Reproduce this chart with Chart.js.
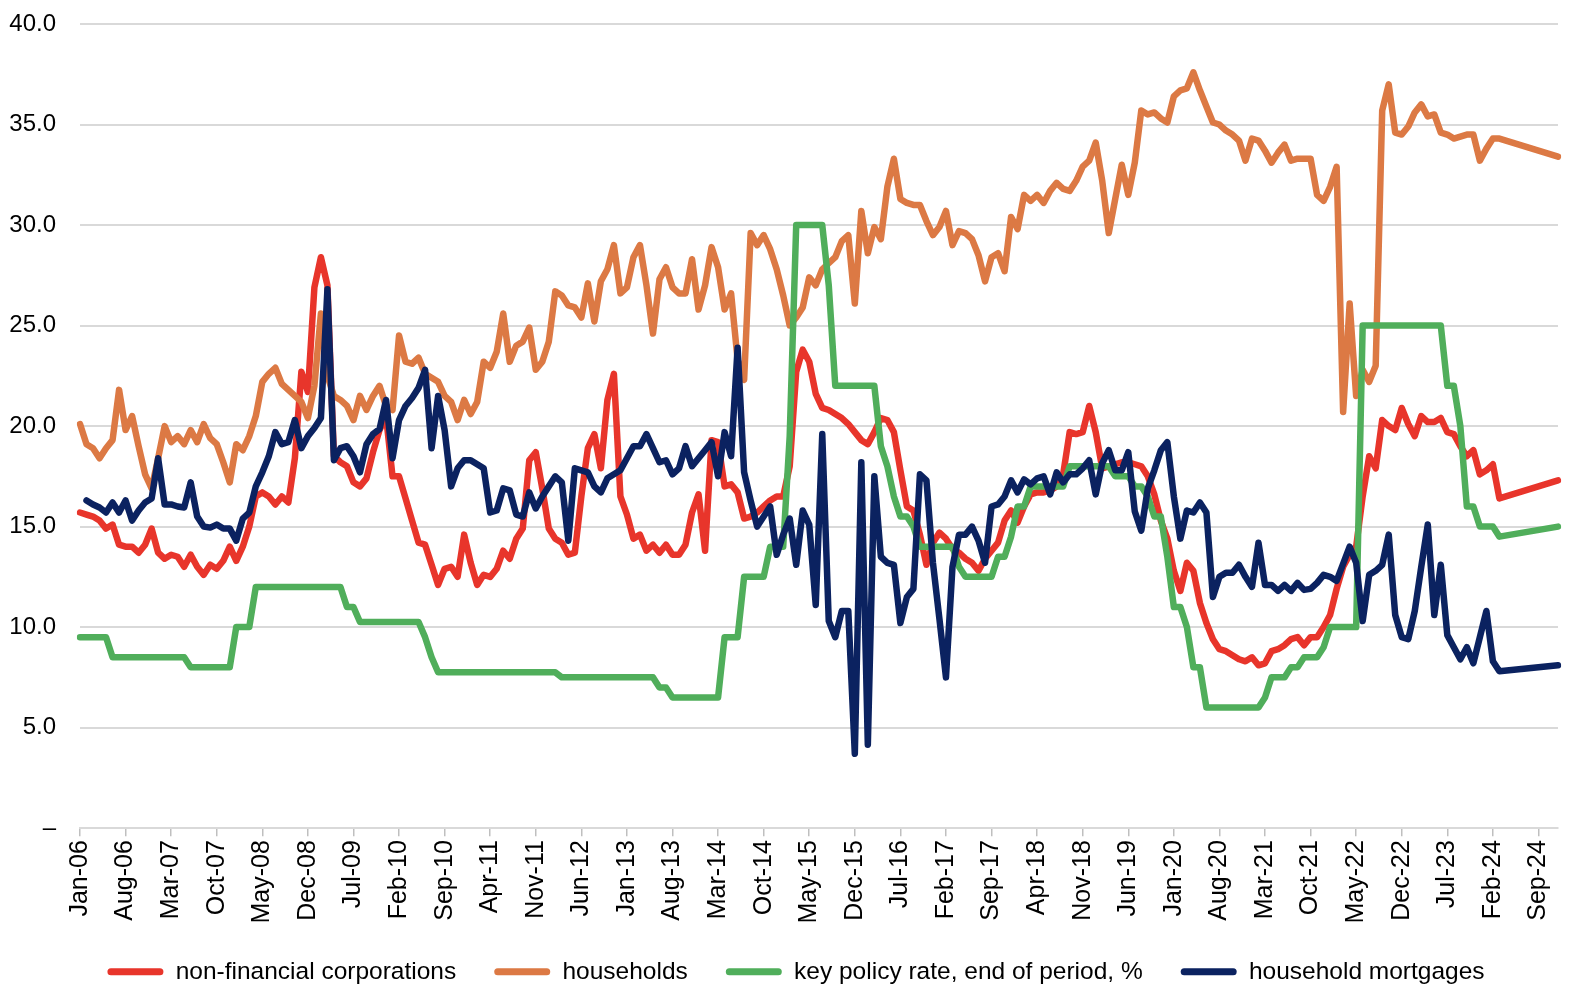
<!DOCTYPE html>
<html>
<head>
<meta charset="utf-8">
<script src="https://cdn.jsdelivr.net/npm/chart.js@4.4.1/dist/chart.umd.min.js"></script>
<style>
  html, body { margin: 0; padding: 0; background: #ffffff; }
  #wrap { width: 1576px; height: 1000px; }
</style>
</head>
<body>
<div id="wrap"><canvas id="rateChart" width="1576" height="1000"></canvas></div>
<script>
// Monthly categories Jan-06 .. Dec-24
var monthNames = ['Jan','Feb','Mar','Apr','May','Jun','Jul','Aug','Sep','Oct','Nov','Dec'];
var years = ['06','07','08','09','10','11','12','13','14','15','16','17','18','19','20','21','22','23','24'];
var tickEvery = 7;
var yTicks = [0, 5, 10, 15, 20, 25, 30, 35, 40];

var categories = [];
years.forEach(function (y) {
  monthNames.forEach(function (m) { categories.push(m + '-' + y); });
});

// non-financial corporations
var nfcRates = [
  15.7,15.6,15.5,15.3,14.9,15.1,14.1,14.0,14.0,13.7,14.1,14.9,
  13.7,13.4,13.6,13.5,13.0,13.6,13.0,12.6,13.1,12.9,13.3,14.0,
  13.3,14.0,15.0,16.5,16.7,16.5,16.1,16.5,16.2,18.4,22.7,21.7,
  26.9,28.4,27.0,18.5,18.2,18.0,17.2,17.0,17.4,18.7,19.8,20.5,
  17.5,17.5,16.4,15.3,14.2,14.1,13.1,12.1,12.9,13.0,12.5,14.6,
  13.2,12.1,12.6,12.5,12.9,13.8,13.4,14.4,14.9,18.3,18.7,16.9,
  14.9,14.4,14.2,13.6,13.7,16.5,18.9,19.6,17.9,21.3,22.6,16.5,
  15.6,14.4,14.6,13.8,14.1,13.7,14.1,13.6,13.6,14.1,15.7,16.6,
  13.8,19.3,19.2,17.0,17.1,16.7,15.4,15.5,15.7,16.0,16.3,16.5,
  16.5,18.0,22.7,23.8,23.2,21.6,20.9,20.8,20.6,20.4,20.1,19.7,
  19.3,19.1,19.7,20.4,20.3,19.7,17.8,16.0,15.8,14.6,13.1,14.2,
  14.7,14.4,13.9,13.7,13.4,13.2,12.8,13.4,13.8,14.2,15.3,15.8,
  15.2,16.0,16.6,16.7,16.7,16.8,17.0,17.6,19.7,19.6,19.7,21.0,
  19.7,17.9,18.0,18.1,18.2,18.2,18.1,18.0,17.5,16.6,15.3,14.4,
  12.8,11.8,13.2,12.8,11.2,10.2,9.4,8.9,8.8,8.6,8.4,8.3,
  8.5,8.1,8.2,8.8,8.9,9.1,9.4,9.5,9.1,9.5,9.5,10.0,
  10.6,11.9,13.0,13.6,14.0,16.5,18.5,17.9,20.3,20.0,19.8,20.9,
  20.1,19.5,20.5,20.2,20.2,20.4,19.7,19.6,19.0,18.5,18.8,17.6,
  17.8,18.1,16.4,null,null,null,null,null,null,null,null,17.3
];

// households
var householdRates = [
  20.1,19.1,18.9,18.4,18.9,19.3,21.8,19.8,20.5,19.0,17.6,16.9,
  18.4,20.0,19.2,19.5,19.1,19.8,19.2,20.1,19.4,19.1,18.2,17.2,
  19.1,18.8,19.5,20.5,22.2,22.6,22.9,22.1,21.8,21.5,21.2,20.4,
  22.0,25.6,22.5,21.5,21.3,21.0,20.3,21.5,20.8,21.5,22.0,21.0,
  20.8,24.5,23.2,23.1,23.4,22.6,22.4,22.2,21.5,21.2,20.3,21.3,
  20.6,21.2,23.2,22.9,23.7,25.6,23.2,24.0,24.2,24.9,22.8,23.2,
  24.2,26.7,26.5,26.0,25.9,25.4,27.1,25.2,27.2,27.8,29.0,26.6,
  26.9,28.4,29.0,27.0,24.6,27.3,27.9,26.9,26.6,26.6,28.3,25.8,
  27.0,28.9,27.9,25.8,26.6,23.3,22.3,29.6,29.0,29.5,28.8,27.8,
  26.5,25.0,25.4,25.9,27.4,27.0,27.8,28.1,28.4,29.2,29.5,26.1,
  30.7,28.6,29.9,29.3,31.9,33.3,31.3,31.1,31.0,31.0,30.2,29.5,
  29.9,30.7,29.0,29.7,29.6,29.3,28.5,27.2,28.4,28.6,27.7,30.4,
  29.8,31.5,31.2,31.5,31.1,31.7,32.1,31.8,31.7,32.2,32.9,33.2,
  34.1,32.2,29.6,31.3,33.0,31.5,33.1,35.7,35.5,35.6,35.3,35.1,
  36.4,36.7,36.8,37.6,36.7,35.9,35.1,35.0,34.7,34.5,34.2,33.2,
  34.3,34.2,33.7,33.1,33.6,34.0,33.2,33.3,33.3,33.3,31.5,31.2,
  31.9,32.9,20.7,26.1,21.5,22.8,22.2,23.0,35.7,37.0,34.6,34.5,
  34.9,35.6,36.0,35.4,35.5,34.6,34.5,34.3,34.4,34.5,34.5,33.2,
  33.8,34.3,34.3,null,null,null,null,null,null,null,null,33.4
];

// key policy rate, end of period, %
var keyPolicyRate = [
  9.5,9.5,9.5,9.5,9.5,8.5,8.5,8.5,8.5,8.5,8.5,8.5,
  8.5,8.5,8.5,8.5,8.5,8.0,8.0,8.0,8.0,8.0,8.0,8.0,
  10.0,10.0,10.0,12.0,12.0,12.0,12.0,12.0,12.0,12.0,12.0,12.0,
  12.0,12.0,12.0,12.0,12.0,11.0,11.0,10.25,10.25,10.25,10.25,10.25,
  10.25,10.25,10.25,10.25,10.25,9.5,8.5,7.75,7.75,7.75,7.75,7.75,
  7.75,7.75,7.75,7.75,7.75,7.75,7.75,7.75,7.75,7.75,7.75,7.75,
  7.75,7.75,7.5,7.5,7.5,7.5,7.5,7.5,7.5,7.5,7.5,7.5,
  7.5,7.5,7.5,7.5,7.5,7.0,7.0,6.5,6.5,6.5,6.5,6.5,
  6.5,6.5,6.5,9.5,9.5,9.5,12.5,12.5,12.5,12.5,14.0,14.0,
  14.0,19.5,30.0,30.0,30.0,30.0,30.0,27.0,22.0,22.0,22.0,22.0,
  22.0,22.0,22.0,19.0,18.0,16.5,15.5,15.5,15.0,14.0,14.0,14.0,
  14.0,14.0,14.0,13.0,12.5,12.5,12.5,12.5,12.5,13.5,13.5,14.5,
  16.0,16.0,17.0,17.0,17.0,17.0,17.0,17.0,18.0,18.0,18.0,18.0,
  18.0,18.0,18.0,17.5,17.5,17.5,17.0,17.0,16.5,15.5,15.5,13.5,
  11.0,11.0,10.0,8.0,8.0,6.0,6.0,6.0,6.0,6.0,6.0,6.0,
  6.0,6.0,6.5,7.5,7.5,7.5,8.0,8.0,8.5,8.5,8.5,9.0,
  10.0,10.0,10.0,10.0,10.0,25.0,25.0,25.0,25.0,25.0,25.0,25.0,
  25.0,25.0,25.0,25.0,25.0,25.0,22.0,22.0,20.0,16.0,16.0,15.0,
  15.0,15.0,14.5,null,null,null,null,null,null,null,null,15.0
];

// household mortgages
var mortgageRates = [
  null,16.3,16.1,15.95,15.7,16.2,15.7,16.3,15.3,15.8,16.2,16.4,
  18.4,16.1,16.1,16.0,15.95,17.2,15.5,15.0,14.95,15.1,14.9,14.9,
  14.3,15.4,15.7,17.0,17.7,18.5,19.7,19.1,19.2,20.3,18.9,19.5,
  19.9,20.4,26.8,18.3,18.9,19.0,18.5,17.7,19.1,19.6,19.85,21.3,
  18.4,20.3,21.0,21.4,21.9,22.8,18.9,21.5,19.8,17.0,17.9,18.3,
  18.3,18.1,17.9,15.7,15.8,16.9,16.8,15.6,15.5,16.7,15.9,16.5,
  17.0,17.5,17.2,14.3,17.9,17.8,17.7,17.0,16.7,17.4,17.6,17.8,
  18.4,19.0,19.0,19.6,18.9,18.2,18.3,17.6,17.9,19.0,18.0,18.4,
  18.8,19.2,17.5,19.7,18.5,23.9,17.7,16.3,15.0,15.5,16.0,13.6,
  14.6,15.4,13.1,15.8,15.1,11.1,19.6,10.3,9.5,10.8,10.8,3.7,
  18.2,4.15,17.5,13.5,13.2,13.1,10.2,11.5,11.9,17.6,17.3,13.2,
  10.4,7.5,13.0,14.6,14.6,15.0,14.3,13.2,16.0,16.1,16.5,17.3,
  16.7,17.35,17.1,17.4,17.5,16.6,17.7,17.2,17.6,17.6,17.9,18.3,
  16.6,18.15,18.8,17.8,17.8,18.7,15.75,14.8,16.9,17.8,18.8,19.2,
  16.5,14.4,15.8,15.7,16.2,15.7,11.5,12.5,12.7,12.7,13.1,12.5,
  12.0,14.2,12.1,12.1,11.8,12.1,11.8,12.2,11.85,11.9,12.2,12.6,
  12.5,12.3,null,14.0,13.2,10.3,12.6,12.8,13.1,14.6,10.6,9.5,
  9.4,10.8,13.0,15.1,10.6,13.1,9.6,9.0,8.4,9.0,8.2,9.5,
  10.8,8.3,7.8,null,null,null,null,null,null,null,null,8.1
];

(function () {
  var family = "'Liberation Sans', Arial, sans-serif";
  var gridColor = '#d9d9d9';

  function series(label, data, color, order) {
    return {
      label: label,
      data: data,
      borderColor: color,
      backgroundColor: color,
      borderWidth: 6.5,
      pointRadius: 0,
      pointHoverRadius: 0,
      tension: 0,
      spanGaps: true,
      borderJoinStyle: 'round',
      borderCapStyle: 'round',
      order: order
    };
  }

  var navy = series('household mortgages', mortgageRates, '#0b2260', 1);
  // short break in the mortgage series stays open, only the trailing gap is bridged
  navy.segment = {
    borderColor: function (ctx) {
      var gap = ctx.p1DataIndex - ctx.p0DataIndex;
      return (gap > 1 && gap < 5) ? 'rgba(0,0,0,0)' : undefined;
    }
  };

  // nudge the legend row a little to the right, like the original
  var legendShift = {
    id: 'legendShift',
    afterLayout: function (ch) {
      if (ch.legend) { ch.legend.left += 14; ch.legend.right += 14; }
    }
  };

  var chart = new Chart(document.getElementById('rateChart').getContext('2d'), {
    type: 'line',
    data: {
      labels: categories,
      datasets: [
        series('non-financial corporations', nfcRates, '#e8352b', 4),
        series('households', householdRates, '#dc7944', 3),
        series('key policy rate, end of period, %', keyPolicyRate, '#50ae5b', 2),
        navy
      ]
    },
    plugins: [legendShift],
    options: {
      responsive: false,
      animation: false,
      layout: { padding: { left: 6, right: 18, top: 24, bottom: 6 } },
      plugins: {
        tooltip: { enabled: false },
        legend: {
          position: 'bottom',
          align: 'center',
          labels: {
            boxWidth: 56,
            boxHeight: 7,
            useBorderRadius: true,
            borderRadius: 3.5,
            padding: 38,
            color: '#000000',
            font: { family: family, size: 24.5 },
            generateLabels: function (ch) {
              var items = Chart.defaults.plugins.legend.labels.generateLabels(ch);
              items.forEach(function (it) { it.lineWidth = 0; });
              return items.sort(function (a, b) { return a.datasetIndex - b.datasetIndex; });
            }
          }
        }
      },
      scales: {
        x: {
          type: 'category',
          offset: false,
          grid: { display: true, drawOnChartArea: false, drawTicks: true, tickLength: 8, color: '#bfbfbf', lineWidth: 1.5 },
          border: { display: true, color: gridColor, width: 2 },
          afterFit: function (scale) { scale.height = scale.height - 6; },
          ticks: {
            autoSkip: false,
            maxRotation: 90,
            minRotation: 90,
            padding: 4,
            color: '#000000',
            font: { family: family, size: 25 },
            callback: function (val, idx) {
              return idx % tickEvery === 0 ? this.getLabelForValue(val) : null;
            }
          }
        },
        y: {
          min: yTicks[0],
          max: yTicks[yTicks.length - 1],
          grid: { color: gridColor, lineWidth: 2, drawTicks: false },
          border: { display: false },
          afterFit: function (scale) {
            scale.width = 74;
            scale.paddingTop = 0;
            scale.paddingBottom = 0;
          },
          ticks: {
            stepSize: 5,
            padding: 24,
            color: '#000000',
            font: { family: family, size: 24 },
            callback: function (v) { return v === 0 ? '\u2013' : v.toFixed(1); }
          }
        }
      }
    }
  });
  window._rateChart = chart;
})();
</script>
</body>
</html>
